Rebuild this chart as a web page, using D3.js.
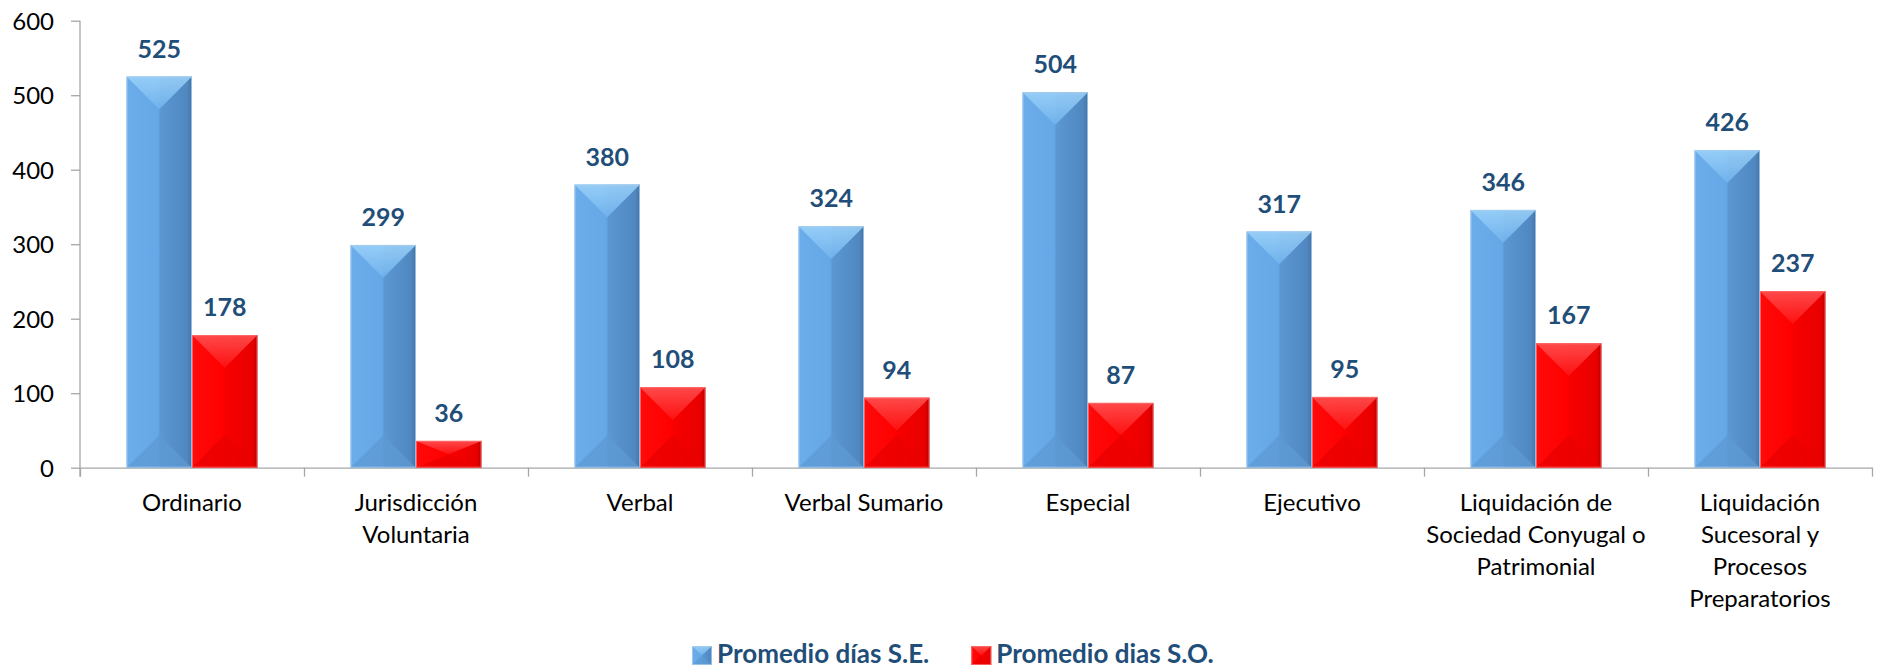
<!DOCTYPE html>
<html>
<head>
<meta charset="utf-8">
<script src="https://cdn.jsdelivr.net/npm/d3@7"></script>
<style>
  html, body { margin: 0; padding: 0; background: #fff; }
  svg { display: block; }
  text { font-family: Lato, "Open Sans", sans-serif; }
</style>
</head>
<body>
<svg id="chart" width="1880" height="670"></svg>
<script>
// Tipos de proceso (one label line per array entry)
const categories = [
  ["Ordinario"],
  ["Jurisdicción", "Voluntaria"],
  ["Verbal"],
  ["Verbal Sumario"],
  ["Especial"],
  ["Ejecutivo"],
  ["Liquidación de", "Sociedad Conyugal o", "Patrimonial"],
  ["Liquidación", "Sucesoral y", "Procesos", "Preparatorios"]
];
const seriesNames = ["Promedio días S.E.", "Promedio dias S.O."];
const promedioSE = [525, 299, 380, 324, 504, 317, 346, 426];
const promedioSO = [178, 36, 108, 94, 87, 95, 167, 237];
const yTicks = [0, 100, 200, 300, 400, 500, 600];

const svg = d3.select("#chart");
const plotLeft = 80, plotRight = 1872, plotTop = 20.7, plotBottom = 467.7;

const keys = categories.map(c => c.join(" "));
const x0 = d3.scaleBand().domain(keys).range([plotLeft, plotRight]).padding(0);
const x1 = d3.scaleBand().domain(seriesNames).range([0, x0.bandwidth()])
  .paddingInner(0).paddingOuter(0.71);
const y = d3.scaleLinear().domain([0, 600]).range([plotBottom, plotTop]);

// gradients for the bevelled bars
const defs = svg.append("defs");
const palettes = [
  { body: ["#6badea", "#66a8e7", "#5b97d3", "#5087c0"], topA: "#9dd3fa", topB: "#72b4ee", bot: "#5e9ad3", edge: "#44729f", rim: "#a8cdef" },
  { body: ["#ff0a0a", "#ff0000", "#f70000", "#e80000"], topA: "#ff5555", topB: "#ff1414", bot: "#ea0000", edge: "#b80000", rim: "#ff7070" }
];
palettes.forEach((p, i) => {
  const g = defs.append("linearGradient").attr("id", "body" + i)
    .attr("x1", "0").attr("x2", "1").attr("y1", "0").attr("y2", "0");
  g.append("stop").attr("offset", "0").attr("stop-color", p.body[0]);
  g.append("stop").attr("offset", "0.48").attr("stop-color", p.body[1]);
  g.append("stop").attr("offset", "0.52").attr("stop-color", p.body[2]);
  g.append("stop").attr("offset", "0.93").attr("stop-color", p.body[3]);
  g.append("stop").attr("offset", "1").attr("stop-color", p.edge);
  const t = defs.append("linearGradient").attr("id", "top" + i)
    .attr("x1", "0").attr("x2", "0").attr("y1", "0").attr("y2", "1");
  t.append("stop").attr("offset", "0").attr("stop-color", p.topA);
  t.append("stop").attr("offset", "1").attr("stop-color", p.topB);
});

// axes
const axisColor = "#a6a6a6";
const yAxis = svg.append("g").attr("transform", `translate(${plotLeft},0)`)
  .call(d3.axisLeft(y).tickValues(yTicks).tickSize(9).tickPadding(17).tickSizeOuter(0));
yAxis.select(".domain").remove();
yAxis.selectAll("line").attr("stroke", axisColor).attr("stroke-width", 1.3);
yAxis.selectAll("text").attr("font-size", 24).attr("fill", "#000")
  .attr("font-family", "Lato, sans-serif").attr("dy", "0.36em");

// vertical axis line, reaching down to the category tick
svg.append("line").attr("x1", plotLeft).attr("x2", plotLeft)
  .attr("y1", y(600)).attr("y2", plotBottom + 9)
  .attr("stroke", axisColor).attr("stroke-width", 1.3);

// category boundary ticks
const boundary = d3.scaleLinear().domain([0, keys.length]).range([plotLeft, plotRight]);
const xTicks = svg.append("g").attr("transform", `translate(0,${plotBottom})`)
  .call(d3.axisBottom(boundary).tickValues(d3.range(keys.length + 1))
    .tickFormat("").tickSize(9).tickSizeOuter(0));
xTicks.select(".domain").attr("stroke", axisColor).attr("stroke-width", 1.3);
xTicks.selectAll("line").attr("stroke", axisColor).attr("stroke-width", 1.3);

// category labels
const catG = svg.append("g");
categories.forEach((lines, i) => {
  const cx = x0(keys[i]) + x0.bandwidth() / 2;
  const t = catG.append("text")
    .attr("x", cx)
    .attr("y", 511)
    .attr("text-anchor", "middle")
    .attr("font-size", 24)
    .attr("fill", "#000");
  lines.forEach((ln, j) => {
    t.append("tspan").attr("x", cx).attr("dy", j === 0 ? 0 : 32).text(ln);
  });
});

// bevelled bar
function bevelBar(g, xPos, w, yTop, yBot, pi) {
  const p = palettes[pi];
  const h = yBot - yTop;
  const b = Math.min(w / 2, h / 2);
  g.append("rect").attr("x", xPos).attr("y", yTop).attr("width", w).attr("height", h)
    .attr("fill", `url(#body${pi})`);
  g.append("path")
    .attr("d", `M${xPos},${yTop}L${xPos + w},${yTop}L${xPos + w / 2},${yTop + b}Z`)
    .attr("fill", `url(#top${pi})`).attr("opacity", 0.85);
  g.append("path")
    .attr("d", `M${xPos},${yBot}L${xPos + w},${yBot}L${xPos + w / 2},${yBot - b}Z`)
    .attr("fill", p.bot).attr("opacity", 0.75);
  g.append("rect").attr("x", xPos + 0.5).attr("y", yTop + 0.5)
    .attr("width", w - 1).attr("height", h - 1)
    .attr("fill", "none").attr("stroke", p.rim).attr("stroke-width", 1).attr("opacity", 0.8);
}

const series = [promedioSE, promedioSO];
const barsG = svg.append("g");
series.forEach((vals, si) => {
  vals.forEach((v, i) => {
    const xPos = x0(keys[i]) + x1(seriesNames[si]);
    bevelBar(barsG, xPos, x1.bandwidth(), y(v), y(0), si);
  });
});

// value labels
const labG = svg.append("g");
series.forEach((vals, si) => {
  vals.forEach((v, i) => {
    labG.append("text")
      .attr("x", x0(keys[i]) + x1(seriesNames[si]) + x1.bandwidth() / 2)
      .attr("y", y(v) - 19)
      .attr("text-anchor", "middle")
      .attr("font-size", 25).attr("font-weight", 700)
      .attr("fill", "#1f4e79")
      .text(v);
  });
});

// legend
const legend = svg.append("g");
let lx = 692;
seriesNames.forEach((name, si) => {
  const mg = legend.append("g");
  bevelBar(mg, lx, 20, 646, 665, si);
  const t = legend.append("text").attr("x", lx + 25).attr("y", 663)
    .attr("font-size", 26).attr("font-weight", 700).attr("fill", "#1f4e79").text(name);
  lx += 25 + t.node().getComputedTextLength() + 42;
});
</script>
</body>
</html>
